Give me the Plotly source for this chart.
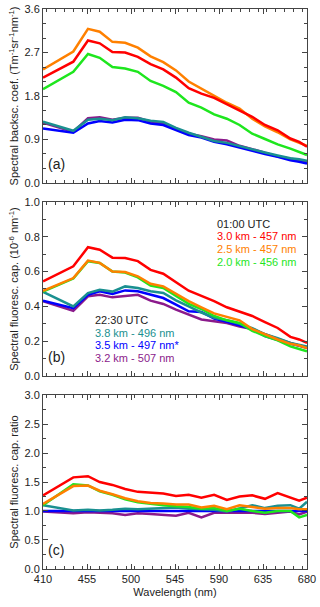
import plotly.graph_objects as go

# longitud de onda (nm)
wl = [410, 441, 456, 468, 481, 494, 507, 520, 533, 546, 559, 572, 585, 598, 611, 624, 637, 650, 663, 672, 680]

# (a) coeficiente de retrodispersion espectral
bsc_red = [2.18, 2.51, 2.95, 2.89, 2.71, 2.70, 2.61, 2.46, 2.35, 2.18, 1.96, 1.85, 1.76, 1.63, 1.50, 1.37, 1.20, 1.09, 0.92, 0.85, 0.75]
bsc_orange = [2.35, 2.72, 3.19, 3.13, 2.92, 2.90, 2.80, 2.62, 2.50, 2.33, 2.10, 1.95, 1.81, 1.66, 1.54, 1.33, 1.17, 1.05, 0.90, 0.83, 0.77]
bsc_green = [1.94, 2.30, 2.67, 2.59, 2.40, 2.37, 2.30, 2.11, 2.01, 1.88, 1.66, 1.56, 1.42, 1.33, 1.20, 1.02, 0.91, 0.80, 0.71, 0.64, 0.58]
bsc_teal = [1.27, 1.08, 1.31, 1.33, 1.30, 1.36, 1.34, 1.29, 1.26, 1.14, 1.04, 0.96, 0.87, 0.83, 0.76, 0.69, 0.63, 0.57, 0.51, 0.49, 0.46]
bsc_blue = [1.13, 1.04, 1.23, 1.28, 1.25, 1.31, 1.30, 1.23, 1.20, 1.09, 0.99, 0.94, 0.85, 0.80, 0.73, 0.66, 0.60, 0.54, 0.47, 0.44, 0.40]
bsc_purple = [1.25, 1.06, 1.34, 1.36, 1.31, 1.35, 1.35, 1.27, 1.23, 1.12, 1.02, 0.97, 0.90, 0.88, 0.77, 0.70, 0.62, 0.55, 0.50, 0.47, 0.44]

# (b) capacidad de fluorescencia espectral
fl_red = [0.544, 0.63, 0.74, 0.726, 0.68, 0.678, 0.66, 0.61, 0.588, 0.54, 0.49, 0.46, 0.43, 0.395, 0.37, 0.345, 0.31, 0.276, 0.225, 0.21, 0.19]
fl_orange = [0.49, 0.563, 0.663, 0.65, 0.60, 0.598, 0.573, 0.53, 0.515, 0.47, 0.43, 0.395, 0.36, 0.34, 0.32, 0.27, 0.24, 0.21, 0.185, 0.175, 0.16]
fl_green = [0.485, 0.56, 0.66, 0.65, 0.60, 0.595, 0.567, 0.52, 0.506, 0.46, 0.415, 0.385, 0.345, 0.32, 0.305, 0.26, 0.23, 0.205, 0.17, 0.155, 0.142]
fl_teal = [0.483, 0.40, 0.477, 0.496, 0.485, 0.515, 0.506, 0.487, 0.477, 0.435, 0.40, 0.365, 0.335, 0.32, 0.30, 0.275, 0.24, 0.218, 0.19, 0.18, 0.17]
fl_blue = [0.433, 0.39, 0.467, 0.487, 0.472, 0.492, 0.487, 0.467, 0.448, 0.41, 0.372, 0.368, 0.33, 0.312, 0.29, 0.27, 0.23, 0.209, 0.185, 0.175, 0.165]
fl_purple = [0.43, 0.375, 0.458, 0.467, 0.452, 0.458, 0.467, 0.433, 0.414, 0.381, 0.352, 0.325, 0.315, 0.305, 0.285, 0.27, 0.241, 0.213, 0.19, 0.175, 0.161]

# (c) cociente de capacidad de fluorescencia
rat_red = [1.27, 1.58, 1.60, 1.50, 1.45, 1.38, 1.33, 1.32, 1.30, 1.26, 1.28, 1.23, 1.28, 1.19, 1.25, 1.27, 1.21, 1.31, 1.24, 1.18, 1.23]
rat_orange = [1.12, 1.43, 1.44, 1.35, 1.29, 1.22, 1.17, 1.14, 1.13, 1.11, 1.11, 1.06, 1.09, 1.03, 1.10, 1.07, 1.04, 1.05, 1.05, 1.03, 1.03]
rat_green = [1.10, 1.46, 1.44, 1.34, 1.28, 1.20, 1.15, 1.12, 1.10, 1.08, 1.07, 1.04, 1.05, 1.00, 1.04, 1.00, 0.97, 1.00, 1.00, 0.89, 0.93]
rat_teal = [1.10, 1.01, 1.02, 1.01, 1.02, 1.04, 1.03, 1.04, 1.05, 1.06, 1.04, 1.03, 1.02, 0.99, 1.04, 1.10, 1.05, 1.09, 1.10, 1.04, 1.16]
rat_blue = [1.00] * len(wl)
rat_purple = [0.99, 0.96, 0.98, 0.97, 0.96, 0.93, 0.96, 0.95, 0.93, 0.92, 0.97, 0.89, 0.97, 0.97, 0.98, 0.97, 0.95, 0.97, 0.99, 0.94, 0.99]

RED = "#ff0000"
ORANGE = "#ff8000"
GREEN = "#1ee61e"
TEAL = "#1a9090"
BLUE = "#0000ff"
PURPLE = "#8b1a8b"

paneles = [
    ("", "y", [bsc_purple, bsc_blue, bsc_teal, bsc_green, bsc_orange, bsc_red]),
    ("2", "y2", [fl_purple, fl_blue, fl_teal, fl_green, fl_orange, fl_red]),
    ("3", "y3", [rat_purple, rat_blue, rat_teal, rat_green, rat_orange, rat_red]),
]
colores = [PURPLE, BLUE, TEAL, GREEN, ORANGE, RED]

fig = go.Figure()
for sfx, yref, series in paneles:
    for s, c in zip(series, colores):
        fig.add_trace(go.Scatter(x=wl, y=s, mode="lines", line=dict(color=c, width=2.5),
                                 xaxis="x" + sfx, yaxis=yref, showlegend=False, hoverinfo="skip"))

fnt = dict(family="Liberation Sans, Arial, sans-serif", size=11, color="#222")
eje = dict(showline=True, mirror="ticks", linecolor="#444", linewidth=1, ticks="inside",
           ticklen=5, tickcolor="#444", showgrid=False, zeroline=False, tickfont=fnt,
           automargin=False, ticklabeloverflow="allow")
ejex = dict(eje, range=[410, 680], dtick=45, tick0=410,
            minor=dict(dtick=9, ticklen=3, ticks="inside", tickcolor="#444"))

dom = [[0.6893, 1.0], [0.3446, 0.6554], [0.0, 0.3107]]

fig.update_layout(
    width=320, height=607,
    margin=dict(l=43, r=13, t=9, b=38),
    plot_bgcolor="white", paper_bgcolor="white",
    font=fnt,
    xaxis=dict(ejex, anchor="y", showticklabels=False),
    xaxis2=dict(ejex, anchor="y2", showticklabels=False),
    xaxis3=dict(ejex, anchor="y3", title=dict(text="Wavelength (nm)", font=fnt, standoff=4)),
    yaxis=dict(eje, domain=dom[0], range=[0, 3.6], dtick=0.9, tickformat=".1f",
               minor=dict(dtick=0.3, ticklen=3, ticks="inside", tickcolor="#444"),
               title=dict(text="Spectral backsc. coef. (Tm<sup>-1</sup>sr<sup>-1</sup>nm<sup>-1</sup>)", font=fnt, standoff=3)),
    yaxis2=dict(eje, domain=dom[1], range=[0, 1.0], dtick=0.2, tickformat=".1f",
                minor=dict(dtick=0.1, ticklen=3, ticks="inside", tickcolor="#444"),
                title=dict(text="Spectral fluoresc. cap. (10<sup>-6</sup> nm<sup>-1</sup>)", font=fnt, standoff=3)),
    yaxis3=dict(eje, domain=dom[2], range=[0, 3.0], dtick=0.5, tickformat=".1f",
                minor=dict(dtick=0.25, ticklen=3, ticks="inside", tickcolor="#444"),
                title=dict(text="Spectral fluoresc. cap. ratio", font=fnt, standoff=3)),
)

# etiquetas de panel
for txt, xr, yr, yv in [("(a)", "x", "y", 0.05 * 3.6), ("(b)", "x2", "y2", 0.05), ("(c)", "x3", "y3", 0.05 * 3.0)]:
    fig.add_annotation(text=txt, x=413, y=yv, xref=xr, yref=yr, xanchor="left", yanchor="bottom",
                       showarrow=False, font=dict(family=fnt["family"], size=14, color="#222"))

# leyendas de texto del panel (b)
leyenda_01 = [("01:00 UTC", "#222"), ("3.0 km - 457 nm", RED), ("2.5 km - 457 nm", ORANGE), ("2.0 km - 456 nm", GREEN)]
leyenda_22 = [("22:30 UTC", "#222"), ("3.8 km - 496 nm", TEAL), ("3.5 km - 497 nm*", BLUE), ("3.2 km - 507 nm", PURPLE)]
for i, (t, c) in enumerate(leyenda_01):
    fig.add_annotation(text=t, x=586, y=0.875 - i * 0.073, xref="x2", yref="y2", xanchor="left",
                       yanchor="middle", showarrow=False, font=dict(family=fnt["family"], size=11, color=c))
for i, (t, c) in enumerate(leyenda_22):
    fig.add_annotation(text=t, x=461, y=0.323 - i * 0.073, xref="x2", yref="y2", xanchor="left",
                       yanchor="middle", showarrow=False, font=dict(family=fnt["family"], size=11, color=c))

# quitar el margen por defecto del body para que la figura ocupe toda la ventana
fig.write_html("out.html", config={"displayModeBar": False},
               post_script="document.body.style.margin='0px';")
